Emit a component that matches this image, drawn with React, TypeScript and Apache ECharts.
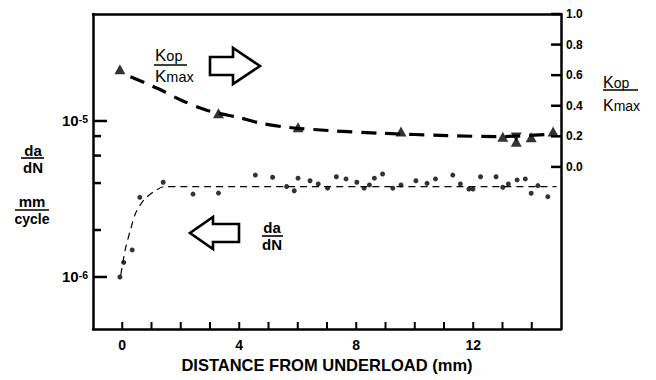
import React, { useEffect, useRef } from "react";
import * as echarts from "echarts";

// da/dN measured points (x in mm, y in mm/cycle)
const dadnX = [-0.08, 0.05, 0.34, 0.6, 1.4, 2.42, 3.29, 4.55, 5.14, 5.62, 5.88, 6.01, 6.42, 6.7, 7.02, 7.32, 7.65, 8.02, 8.27, 8.45, 8.62, 8.9, 9.25, 9.53, 10.04, 10.42, 10.71, 11.3, 11.56, 11.85, 11.99, 12.25, 12.78, 13.01, 13.2, 13.5, 13.78, 13.98, 14.21, 14.55];
const dadnY = [1.0e-6, 1.24e-6, 1.49e-6, 3.24e-6, 4.05e-6, 3.4e-6, 3.45e-6, 4.5e-6, 4.36e-6, 3.8e-6, 3.57e-6, 4.3e-6, 4.14e-6, 3.95e-6, 3.71e-6, 4.39e-6, 4.25e-6, 4.05e-6, 3.71e-6, 3.89e-6, 4.3e-6, 4.57e-6, 3.71e-6, 3.89e-6, 4.14e-6, 3.98e-6, 4.25e-6, 4.5e-6, 3.95e-6, 3.66e-6, 3.66e-6, 4.39e-6, 4.39e-6, 3.76e-6, 3.95e-6, 4.19e-6, 4.25e-6, 3.44e-6, 3.85e-6, 3.27e-6];

// da/dN fitted (thin dashed) curve
const dadnFitX = [-0.05, 0.1, 0.28, 0.46, 0.74, 1.08, 1.42, 2.0, 14.85];
const dadnFitY = [1.03e-6, 1.49e-6, 2.0e-6, 2.57e-6, 3.12e-6, 3.52e-6, 3.79e-6, 3.8e-6, 3.8e-6];

// Kop/Kmax measured points
const kopX = [-0.08, 3.29, 6.01, 9.53, 13.01, 13.47, 13.98, 14.73];
const kopY = [0.639, 0.351, 0.259, 0.231, 0.198, 0.165, 0.194, 0.231];
// inverted-triangle point
const kopInvX = [13.47];
const kopInvY = [0.196];

// Kop/Kmax fitted (thick dashed) curve
const kopFitX = [0.28, 1.2, 2.0, 2.79, 3.29, 3.94, 4.74, 5.65, 7.13, 8.84, 11.13, 12.84, 14.7];
const kopFitY = [0.59, 0.514, 0.438, 0.377, 0.351, 0.325, 0.286, 0.259, 0.237, 0.22, 0.205, 0.198, 0.215];

// axes
const X_MIN = -1;
const X_MAX = 15;
const LOG_MIN = 4.64e-7;
const LOG_MAX = 4.85e-5;
const K_MIN = -1.06;
const K_MAX = 1.0;
const xTickValues = [0, 1, 2, 3, 4, 5, 6, 7, 8, 9, 10, 11, 12, 13, 14];
const xLabelValues = [0, 4, 8, 12];
const logMajor = [1e-6, 1e-5];
const logMinor = [2e-6, 4e-6, 6e-6, 8e-6];
const kTicks = [0, 0.2, 0.4, 0.6, 0.8, 1.0];

const FONT = '"Liberation Sans", Arial, sans-serif';
const GRID = { left: 93, right: 95, top: 14, bottom: 51 };

const zip = (xs: number[], ys: number[]) => xs.map((x, i) => [x, ys[i]]);

export default function App() {
  const ref = useRef<HTMLDivElement>(null);
  useEffect(() => {
    if (!ref.current) return;
    const chart = echarts.init(ref.current, null, { renderer: "svg" });
    const black = "#000";
    const axisLine = { show: true, onZero: false, lineStyle: { color: black, width: 2.5 } };
    const txt = (text: string, x: number, y: number, size: number, bold: boolean) => ({
      type: "text",
      style: {
        text,
        x,
        y,
        fill: black,
        font: `${bold ? "bold " : ""}${size}px ${FONT}`,
        align: "center",
        verticalAlign: "middle",
      },
    });
    const ln = (x1: number, x2: number, y: number, w = 1.6) => ({
      type: "line",
      shape: { x1, y1: y, x2, y2: y },
      style: { stroke: black, lineWidth: w },
    });
    const richK = (sub: string, x: number, y: number, kSize: number, sSize: number) => ({
      type: "text",
      style: {
        text: `{k|K}{s|${sub}}`,
        x,
        y,
        align: "left",
        verticalAlign: "middle",
        rich: {
          k: { fontSize: kSize, fontFamily: FONT, fill: black, verticalAlign: "bottom" },
          s: { fontSize: sSize, fontFamily: FONT, fill: black, verticalAlign: "bottom" },
        },
      },
    });
    const annotations: any[] = [
      richK("op", 155, 55, 17, 14.5),
      ln(154, 187, 65),
      richK("max", 155, 76, 17, 14.5),
      {
        type: "polygon",
        shape: { points: [[210, 57], [233, 57], [233, 48], [260, 66], [233, 84], [233, 75], [210, 75]] },
        style: { fill: "#fff", stroke: black, lineWidth: 2.6 },
      },
      {
        type: "polygon",
        shape: { points: [[239, 224], [213, 224], [213, 217], [190, 233], [213, 249], [213, 242], [239, 242]] },
        style: { fill: "#fff", stroke: black, lineWidth: 2.6 },
      },
      txt("da", 272, 227.5, 15, true),
      ln(262, 283, 236),
      txt("dN", 272, 244.5, 15, true),
      txt("da", 33, 150.5, 15, true),
      ln(21, 44, 158),
      txt("dN", 33, 167.5, 15, true),
      txt("mm", 32, 201.5, 15, true),
      ln(15, 49, 210),
      txt("cycle", 32, 218.5, 14, true),
      richK("op", 603, 82, 16, 14),
      ln(603, 638, 90),
      richK("max", 603, 105, 16, 14),
    ];
    const option: any = {
      animation: false,
      backgroundColor: "#fff",
      grid: { ...GRID, show: false },
      xAxis: [
        {
          type: "value",
          min: X_MIN,
          max: X_MAX,
          interval: 1,
          position: "bottom",
          axisLine,
          splitLine: { show: false },
          axisTick: { show: false },
          axisLabel: {
            color: black,
            fontFamily: FONT,
            fontWeight: "bold",
            fontSize: 14,
            margin: 9,
            formatter: (v: number) => (xLabelValues.includes(v) ? String(v) : ""),
          },
          name: "DISTANCE FROM UNDERLOAD (mm)",
          nameLocation: "middle",
          nameGap: 27,
          nameTextStyle: { color: black, fontFamily: FONT, fontWeight: "bold", fontSize: 16.5 },
        },
        {
          type: "value",
          min: X_MIN,
          max: X_MAX,
          position: "top",
          axisLine,
          splitLine: { show: false },
          axisTick: { show: false },
          axisLabel: { show: false },
        },
      ],
      yAxis: [
        {
          type: "log",
          logBase: 10,
          min: LOG_MIN,
          max: LOG_MAX,
          position: "left",
          axisLine,
          splitLine: { show: false },
          axisTick: { show: false },
          axisLabel: {
            customValues: logMajor,
            margin: 5,
            formatter: (v: number) => `{a|10}{b|${Math.round(Math.log10(v))}}`,
            rich: {
              a: { fontSize: 15, fontFamily: FONT, fontWeight: "bold", color: black },
              b: { fontSize: 10.5, fontFamily: FONT, fontWeight: "bold", color: black, verticalAlign: "top" },
            },
          },
        },
        {
          type: "value",
          min: K_MIN,
          max: K_MAX,
          position: "right",
          axisLine,
          splitLine: { show: false },
          axisTick: { show: false },
          axisLabel: {
            customValues: kTicks,
            margin: 5,
            color: black,
            fontFamily: FONT,
            fontWeight: "bold",
            fontSize: 12,
            formatter: (v: number) => v.toFixed(1),
          },
        },
      ],
      series: [
        {
          type: "line",
          yAxisIndex: 0,
          data: zip(dadnFitX, dadnFitY),
          showSymbol: false,
          smooth: 0.3,
          lineStyle: { color: black, width: 1.2, type: [7, 5] },
          z: 2,
        },
        {
          type: "scatter",
          yAxisIndex: 0,
          data: zip(dadnX, dadnY),
          symbol: "circle",
          symbolSize: 5,
          itemStyle: { color: black },
          z: 3,
        },
        {
          type: "line",
          yAxisIndex: 1,
          data: zip(kopFitX, kopFitY),
          showSymbol: false,
          smooth: 0.3,
          lineStyle: { color: black, width: 3.2, type: [15, 9] },
          z: 2,
        },
        {
          type: "scatter",
          yAxisIndex: 1,
          data: zip(kopX, kopY),
          symbol: "triangle",
          symbolSize: [11, 10],
          itemStyle: { color: black },
          z: 3,
        },
        {
          type: "scatter",
          yAxisIndex: 1,
          data: zip(kopInvX, kopInvY),
          symbol: "triangle",
          symbolRotate: 180,
          symbolSize: [11, 9],
          itemStyle: { color: black },
          z: 3,
        },
      ],
      graphic: annotations,
    };
    chart.setOption(option);

    // tick marks: each axis maps its own values to pixels
    const W = 656 - GRID.left - GRID.right;
    const H = 380 - GRID.top - GRID.bottom;
    const safe = (v: any, fb: number) => (typeof v === "number" && isFinite(v) ? v : fb);
    const px = (v: number) =>
      safe(chart.convertToPixel({ xAxisIndex: 0 } as any, v), GRID.left + ((v - X_MIN) / (X_MAX - X_MIN)) * W);
    const pyLog = (v: number) =>
      safe(
        chart.convertToPixel({ yAxisIndex: 0 } as any, v),
        GRID.top + H - ((Math.log10(v) - Math.log10(LOG_MIN)) / (Math.log10(LOG_MAX) - Math.log10(LOG_MIN))) * H
      );
    const pyK = (v: number) =>
      safe(chart.convertToPixel({ yAxisIndex: 1 } as any, v), GRID.top + H - ((v - K_MIN) / (K_MAX - K_MIN)) * H);
    const rect = (x: number, y: number, width: number, height: number) => ({
      type: "rect",
      z: 100,
      shape: { x, y, width, height },
      style: { fill: black },
    });
    const left = px(X_MIN);
    const right = px(X_MAX);
    const bottom = pyLog(LOG_MIN);
    const ticks: any[] = [];
    xTickValues.forEach((v) => ticks.push(rect(px(v) - 1, bottom - 7, 2, 7)));
    logMajor.forEach((v) => ticks.push(rect(left, pyLog(v) - 1.25, 14, 2.5)));
    logMinor.forEach((v) => ticks.push(rect(left, pyLog(v) - 1.25, 8, 2.5)));
    kTicks.forEach((v) => ticks.push(rect(right - 10, pyK(v) - 1.25, 10, 2.5)));
    chart.setOption({ graphic: [...annotations, ...ticks] });

    return () => chart.dispose();
  }, []);
  return (
    <div
      ref={ref}
      style={{ position: "fixed", left: 0, top: 0, width: 656, height: 380, background: "#fff" }}
    />
  );
}
